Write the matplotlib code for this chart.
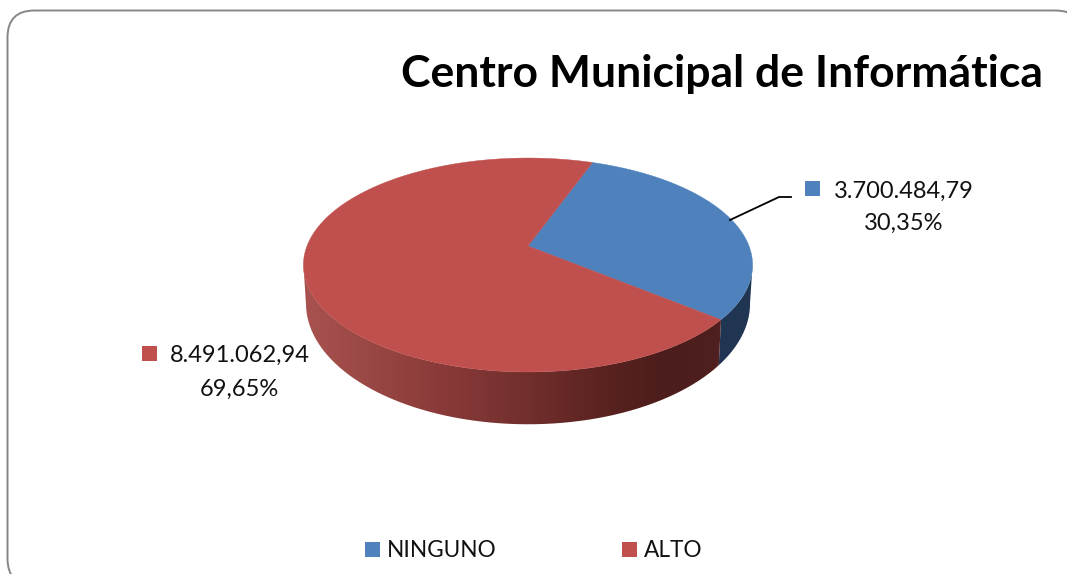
import numpy as np
import matplotlib
matplotlib.use('Agg')
import matplotlib.pyplot as plt
from matplotlib.colors import LinearSegmentedColormap
from matplotlib.patches import FancyBboxPatch, PathPatch, Rectangle
from matplotlib.path import Path

plt.rcParams['font.family'] = ['Lato', 'DejaVu Sans']

titulo = 'Centro Municipal de Informática'
categorias = ['NINGUNO', 'ALTO']
valores = [3700484.79, 8491062.94]
etiquetas_valor = ['3.700.484,79', '8.491.062,94']
etiquetas_pct = ['30,35%', '69,65%']
colores = ['#4f81bd', '#c0504d']

W, H = 1067, 574
K = 0.1776      # perspectiva del disco
ROT = 19.9      # angulo inicial, desde el norte
TAPA = dict(cx=528, cy=246, a=221, b=103.6)
BASE = dict(cx=528, cy=282, a=218.5, b=117)
# angulos donde el contorno del disco es vertical
BORDE_DER = 100
BORDE_IZQ = 260


def proyectar(ang, disco):
    # angulo en grados (horario desde el norte) -> pixeles
    t = np.radians(ang)
    u, v = np.sin(t), np.cos(t)
    d = 1 + K * v
    return disco['cx'] + disco['a'] * u / d, disco['cy'] - disco['b'] * v / d


def lateral(a0, a1):
    angs = np.linspace(a0, a1, 200)
    x0, y0 = proyectar(angs, TAPA)
    x1, y1 = proyectar(angs[::-1], BASE)
    return np.r_[x0, x1], np.r_[y0, y1]


fig = plt.figure(figsize=(W / 100, H / 100), dpi=100)
ax = fig.add_axes([0, 0, 1, 1])
ax.set_xlim(0, W)
ax.set_ylim(H, 0)
ax.axis('off')

# marco redondeado, cortado por el borde derecho e inferior
marco = FancyBboxPatch((7.5, 10.5), 1075, 575, boxstyle='round,pad=0,rounding_size=27',
                       fc='white', ec='#868686', lw=1.4)
ax.add_patch(marco)

fracc = np.array(valores) / sum(valores)
corte = ROT + fracc[0] * 360

# cara lateral azul
xs, ys = lateral(BORDE_DER, corte)
ax.fill(xs, ys, color='#1f3552', lw=0, zorder=2)

# cara lateral roja con degradado
xs, ys = lateral(corte, BORDE_IZQ)
cmap = LinearSegmentedColormap.from_list('lado', [
    (0.00, '#a85350'), (0.30, '#8c3c3a'), (0.52, '#722f2d'),
    (0.72, '#58221f'), (0.85, '#4c1d1c'), (1.00, '#512020')])
grad = np.linspace(0, 1, 256).reshape(1, -1)
im = ax.imshow(grad, cmap=cmap, extent=[303, 730, 440, 250], aspect='auto', zorder=3)
im.set_clip_path(PathPatch(Path(np.c_[xs, ys]), transform=ax.transData))
ax.set_xlim(0, W)
ax.set_ylim(H, 0)

# cara superior, una porcion por categoria
inicio = ROT
for i, f in enumerate(fracc):
    angs = np.linspace(inicio, inicio + f * 360, 300)
    x, y = proyectar(angs, TAPA)
    ax.fill(np.r_[TAPA['cx'], x], np.r_[TAPA['cy'], y], color=colores[i], lw=0.3,
            ec=colores[i], zorder=4)
    inicio += f * 360

# linea guia
ax.plot([730, 779, 791], [220, 197, 197], color='black', lw=1.3, zorder=5)

ax.text(401, 87, titulo, fontsize=32, fontweight='bold', color='black', va='baseline', ha='left')

# etiquetas de datos
fs = 17
ax.add_patch(Rectangle((805, 181), 15, 15, color=colores[0], lw=0))
ax.text(903.5, 198, etiquetas_valor[0], fontsize=fs, ha='center', va='baseline', color='#111111')
ax.text(903.5, 230, etiquetas_pct[0], fontsize=fs, ha='center', va='baseline', color='#111111')
ax.add_patch(Rectangle((142, 346), 15, 15, color=colores[1], lw=0))
ax.text(239.5, 362, etiquetas_valor[1], fontsize=fs, ha='center', va='baseline', color='#111111')
ax.text(239.5, 396, etiquetas_pct[1], fontsize=fs, ha='center', va='baseline', color='#111111')

# leyenda
for x_cuad, x_txt, nombre, color in zip([365, 622], [387, 644], categorias, colores):
    ax.add_patch(Rectangle((x_cuad, 542), 15, 15, color=color, lw=0))
    ax.text(x_txt, 557, nombre, fontsize=16.3, ha='left', va='baseline', color='#111111')

fig.savefig('out.png', dpi=100)
